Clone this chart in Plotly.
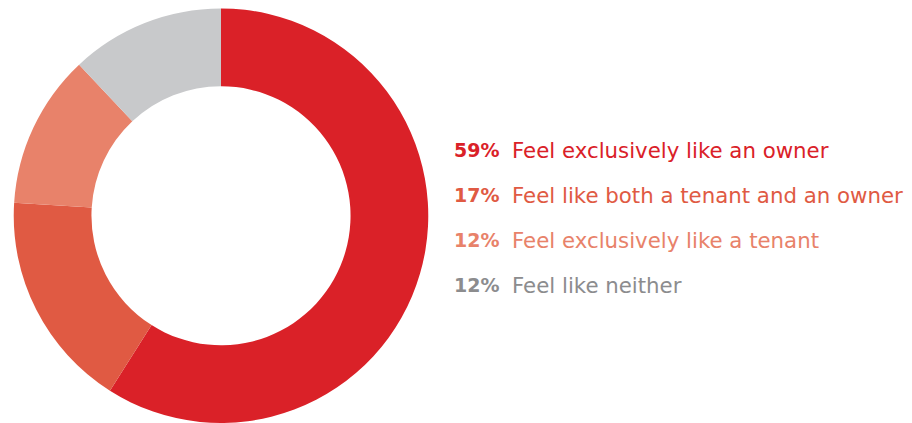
import plotly.graph_objects as go

# Survey responses: how respondents feel about their home
labels = [
    "Feel exclusively like an owner",
    "Feel like both a tenant and an owner",
    "Feel exclusively like a tenant",
    "Feel like neither",
]
values = [59, 17, 12, 12]
slice_colors = ["#DA2128", "#E05A43", "#E8826A", "#C8C9CB"]
text_colors = ["#DA2128", "#E05A43", "#E8826A", "#8C8C8E"]

W, H = 912, 423

fig = go.Figure(
    go.Pie(
        labels=labels,
        values=values,
        hole=0.625,
        sort=False,
        direction="clockwise",
        rotation=0,
        marker=dict(colors=slice_colors, line=dict(width=0)),
        textinfo="none",
        hoverinfo="label+percent",
        domain=dict(x=[13 / W, 429 / W], y=[0.0, 0.98]),
        showlegend=False,
    )
)

# Custom legend: bold percentage followed by the description
row_y = [150, 195, 240, 285]
font_family = "'DejaVu Sans', sans-serif"
for v, lab, col, y in zip(values, labels, text_colors, row_y):
    fig.add_annotation(
        x=501 / W, y=1 - y / H, xref="paper", yref="paper",
        text=f"<b>{v}%</b>", showarrow=False,
        xanchor="right", yanchor="middle",
        font=dict(family=font_family, size=19, color=col),
    )
    fig.add_annotation(
        x=510 / W, y=1 - y / H, xref="paper", yref="paper",
        text=lab, showarrow=False,
        xanchor="left", yanchor="middle",
        font=dict(family=font_family, size=21.3, color=col),
    )

fig.update_layout(
    width=W, height=H,
    margin=dict(l=0, r=0, t=0, b=0),
    paper_bgcolor="white",
    plot_bgcolor="white",
)

fig.write_html("out.html")
